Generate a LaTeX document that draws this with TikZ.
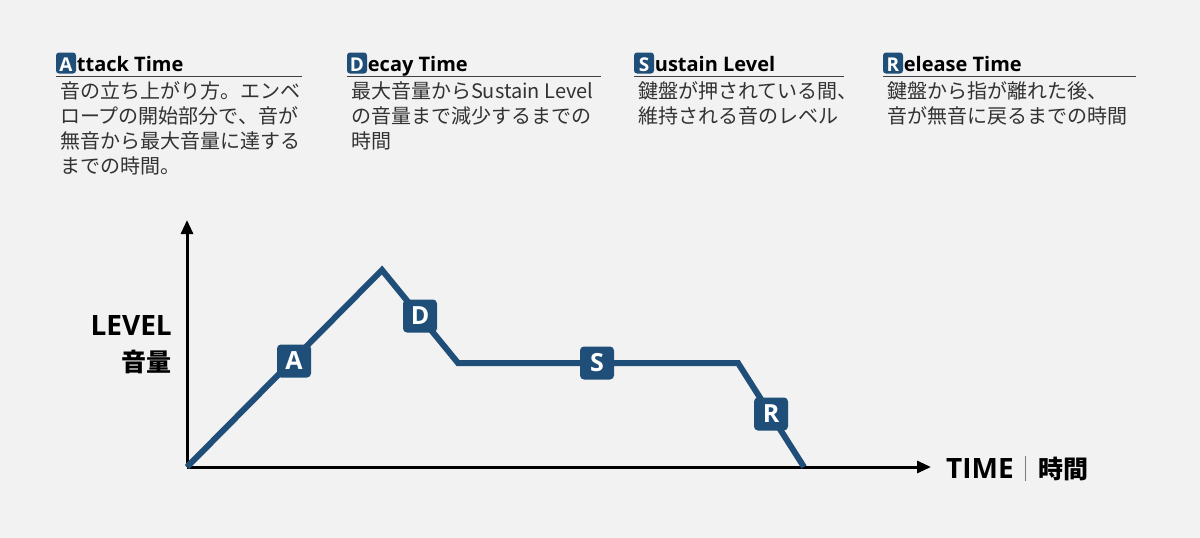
\documentclass[tikz,border=0pt]{standalone}
\usepackage{fontspec}
\setmainfont{Noto Sans CJK JP}
\newfontfamily\headfont{Open Sans}
\usetikzlibrary{positioning,arrows.meta}
\definecolor{envblue}{RGB}{31,78,121}
\definecolor{notegray}{RGB}{50,50,50}

\begin{document}
\begin{tikzpicture}[x=1pt, y=-1pt, >={Triangle[length=14pt,width=12pt]}]

\useasboundingbox[fill=gray!10] (0,0) rectangle (1200,538);

\tikzset{
  every key/.style={fill=envblue, rounded corners=3pt, text=white,
    inner xsep=0pt, inner ysep=0.5pt,
    font=\headfont\bfseries\fontsize{19}{19}\selectfont,
    minimum width=20pt, text height=18pt, text depth=2pt, anchor=base},
  every title/.style={font=\headfont\bfseries\fontsize{20}{20}\selectfont,
    inner sep=0pt, anchor=base west},
  every note/.style={font=\fontsize{20}{25}\selectfont, text=notegray,
    align=left, inner sep=0pt},
  every stage/.style={fill=envblue, rounded corners=4pt, text=white, inner sep=0pt,
    font=\headfont\bfseries\fontsize{25}{25}\selectfont,
    minimum width=34pt, minimum height=33pt},
}

% headings
\foreach \k/\t/\x/\e [count=\i] in {A/ttack Time/56/302, D/ecay Time/347/601,
    S/ustain Level/634/844, R/elease Time/883/1136}
{
  \node [every key] (key-\i) at (\x+10,71) {\k};
  \node [every title] (title-\i) at ([xshift=0.5pt]key-\i.base east) {\t};
  \coordinate (rule-\i) at (\e,76);
  \draw [line width=1pt, black!75] (key-\i.west |- rule-\i) -- (rule-\i);
}

% notes
\foreach \n [count=\i] in {
  {音の立ち上がり方。エンベ\\ロープの開始部分で、音が\\無音から最大音量に達する\\までの時間。},
  {最大音量からSustain Level\\の音量まで減少するまでの\\時間},
  {鍵盤が押されている間、\\維持される音のレベル},
  {鍵盤から指が離れた後、\\音が無音に戻るまでの時間}}
  \node [every note, below right=8pt and 4pt of key-\i.south west] (note-\i) {\n};

% axes
\coordinate (origin) at (187,467);
\coordinate (y-end) at (187,220);
\coordinate (x-end) at (931,467);
\draw [->, line width=3pt] (origin) -- (y-end);
\draw [->, line width=3pt] (origin) -- (x-end);

\node [font=\bfseries\fontsize{25}{36}\selectfont, align=right, anchor=east, inner sep=0pt]
  (level-label) at (172,345) {{\headfont\fontsize{28}{36}\selectfont LEVEL}\\音量};
\node [font=\bfseries\fontsize{25}{25}\selectfont, anchor=base west, inner sep=0pt]
  (time-label) at (946,478) {{\headfont\fontsize{28}{28}\selectfont TIME}{\mdseries\color{gray}｜}時間};

% envelope
\coordinate (peak) at (382,270);
\coordinate (decay-end) at (458,363);
\coordinate (sustain-end) at (738,363);
\coordinate (release-end) at (804,467);
\draw [envblue, line width=6pt] (origin) -- (peak) -- (decay-end) -- (sustain-end) -- (release-end);

\node [every stage] (stage-A) at (294,361) {A};
\node [every stage] (stage-D) at (420,316) {D};
\node [every stage] (stage-S) at (597,363) {S};
\node [every stage] (stage-R) at (771,414) {R};

\end{tikzpicture}
\end{document}
